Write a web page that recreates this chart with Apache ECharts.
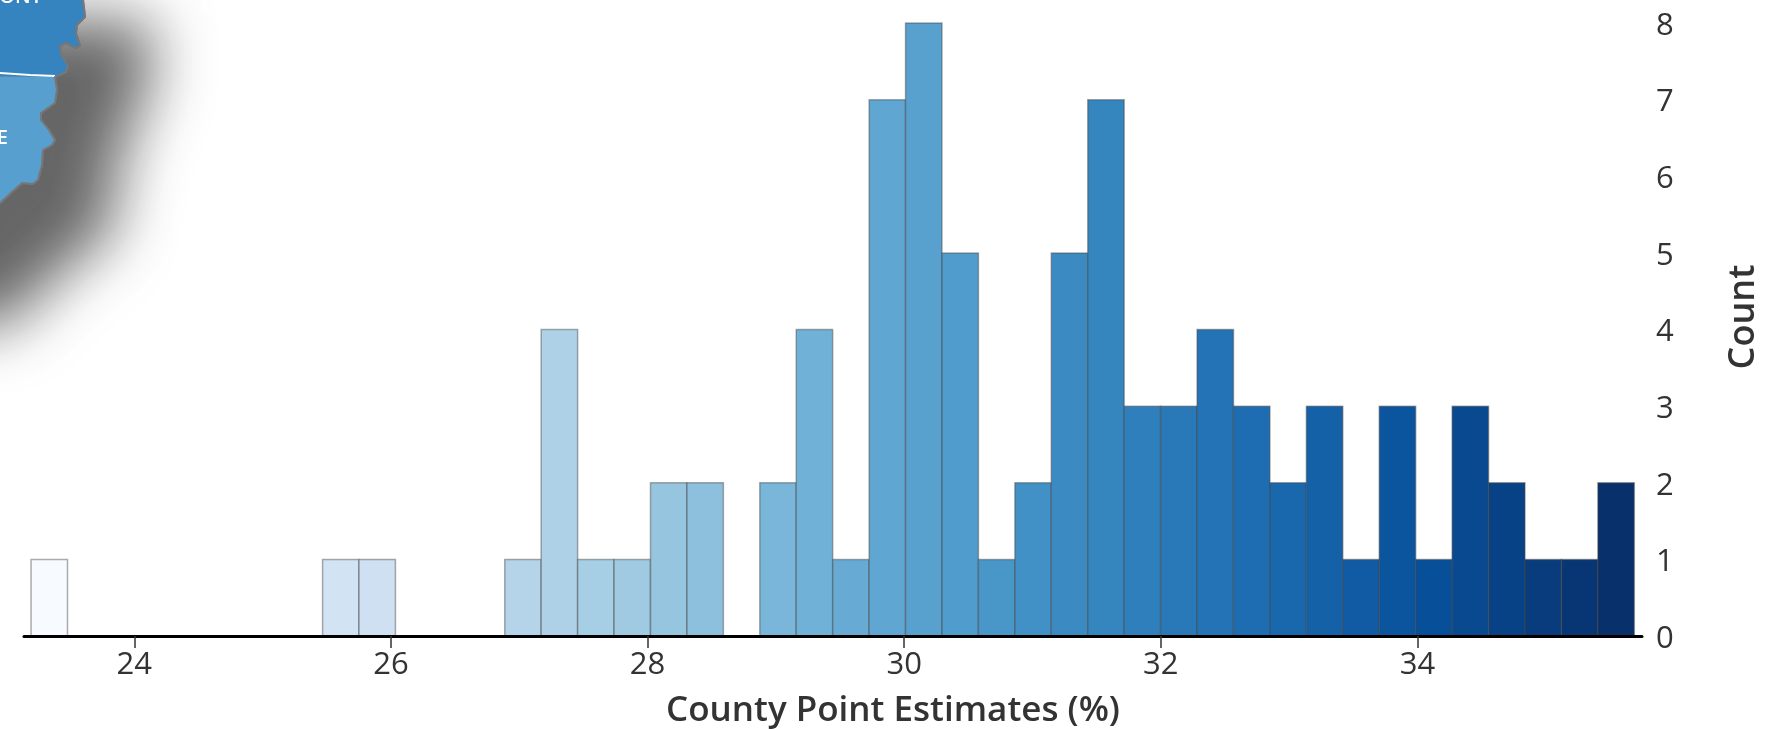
<!DOCTYPE html>
<html><head><meta charset="utf-8">
<style>html,body{margin:0;padding:0;background:#fff}#c{width:1769px;height:729px}</style>
<script src="https://cdn.jsdelivr.net/npm/echarts@6/dist/echarts.min.js"></script>
</head><body><div id="c"></div>
<script>
const binCounts = [1,0,0,0,0,0,0,0,1,1,0,0,0,1,4,1,1,2,2,0,2,4,1,7,8,5,1,2,5,7,3,3,4,3,2,3,1,3,1,3,2,1,1,2];
const binStart = 23.195;
const binEnd = 35.69;
const xTicks = [24,26,28,30,32,34];
const yTicks = [0,1,2,3,4,5,6,7,8];
const xTitle = 'County Point Estimates (%)';
const yTitle = 'Count';
const ramp = ['#f7fbff','#deebf7','#c6dbef','#9ecae1','#6baed6','#4292c6','#2171b5','#08519c','#08306b'];
const mapUpperLabel = 'BELMONT';
const mapLowerLabel = 'MONROE';

const binWidth = (binEnd - binStart) / binCounts.length;
const rows = binCounts.map((c, i) => [binStart + i * binWidth, binStart + (i + 1) * binWidth, c]).filter(r => r[2] > 0);
const FONT = '"Open Sans","Noto Sans",sans-serif';

// decorative fragment of the inset map, cropped by the page edge
const east = [[83,-40],[83,0],[85,17],[77,25],[76,33],[80,46],[75,48],[66,43],[60,46],[61,54],[68,66],[66,72],[55,77]];
const south = [[57,90],[55,103],[41,113],[41,120],[49,130],[55,140],[52,145],[43,150],[42,165],[38,180],[33,184],[22,183],[12,192],[0,203],[-60,262],[-400,262]];
const chart = echarts.init(document.getElementById('c'));
chart.setOption({
  animation: false,
  backgroundColor: '#fff',
  grid: {left: 24, right: 127, top: 23, bottom: 93, outerBoundsMode: 'none'},
  xAxis: {
    type: 'value', min: 23.14, max: 35.75, splitLine: {show: false}, z: 5,
    name: xTitle, nameLocation: 'middle', nameGap: 58,
    nameTextStyle: {fontFamily: FONT, fontSize: 35, fontWeight: 600, color: '#333', padding: [0,0,0,120]},
    axisLine: {show: true, onZero: false, lineStyle: {color: '#000', width: 3}},
    axisTick: {show: true, length: 12, customValues: xTicks, lineStyle: {color: '#333', width: 1.5}},
    axisLabel: {customValues: xTicks, margin: 14, fontFamily: FONT, fontSize: 31, color: '#333'}
  },
  yAxis: {
    type: 'value', min: 0, max: 8, interval: 1, position: 'right', splitLine: {show: false},
    name: yTitle, nameLocation: 'middle', nameGap: 84, nameRotate: 90,
    nameTextStyle: {fontFamily: FONT, fontSize: 36, fontWeight: 600, color: '#333', padding: [0,0,0,25]},
    axisLine: {show: false}, axisTick: {show: false},
    axisLabel: {margin: 14, fontFamily: FONT, fontSize: 31, color: '#333', customValues: yTicks, verticalAlign: 'top', lineHeight: 6}
  },
  series: [{
    type: 'custom', coordinateSystem: 'cartesian2d', clip: false, z: 1,
    encode: {x: [0, 1], y: 2}, data: rows,
    renderItem(params, api) {
      const a = api.coord([api.value(0), api.value(2)]);
      const b = api.coord([api.value(1), 0]);
      const raw = ((api.value(0) + api.value(1)) / 2 - (binStart + binWidth / 2)) / (binEnd - binStart - binWidth);
      const t = Math.min(1, Math.max(0, raw));
      return {type: 'rect', shape: {x: a[0], y: a[1], width: b[0] - a[0], height: b[1] - a[1]},
        style: {fill: echarts.color.lerp(t, ramp), stroke: 'rgba(70,70,70,0.45)', lineWidth: 1.5}};
    }
  }],
  graphic: [
    {type: 'polygon', z: 10, shape: {points: [[-400,-40], ...east, ...south]},
      style: {fill: '#777', stroke: '#777', lineWidth: 2, shadowColor: '#666', shadowBlur: 60, shadowOffsetX: 66, shadowOffsetY: 62}},
    {type: 'polygon', z: 11, shape: {points: [[-400,-40], ...east, [-400,72]]}, style: {fill: '#3584bf'}},
    {type: 'polygon', z: 11, shape: {points: [[-400,72], [55,77], ...south]}, style: {fill: '#569fcf'}},
    {type: 'polyline', z: 12, shape: {points: [[-400,72],[0,73],[30,75],[55,76]]}, style: {stroke: '#fff', lineWidth: 2, fill: null}},
    {type: 'polyline', z: 12, shape: {points: [...east, ...south]}, style: {stroke: '#777', lineWidth: 2, fill: null}},
    {type: 'text', z: 13, x: 42, y: 7, style: {text: mapUpperLabel, fill: '#fff', font: '600 20px ' + FONT, textAlign: 'right', textVerticalAlign: 'bottom'}},
    {type: 'text', z: 13, x: 8, y: 148, style: {text: mapLowerLabel, fill: '#fff', font: '600 20px ' + FONT, textAlign: 'right', textVerticalAlign: 'bottom'}}
  ]
});
</script></body></html>
